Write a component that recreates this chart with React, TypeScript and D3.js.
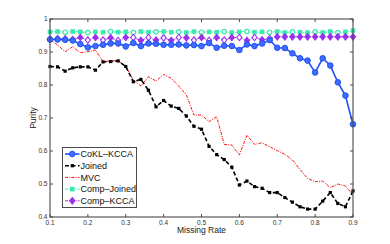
import { useEffect, useRef } from 'react';
import * as d3 from 'd3';

const missingRate = [
  0.1, 0.12, 0.14, 0.16, 0.18, 0.2, 0.22, 0.24, 0.26, 0.28, 0.3, 0.32, 0.34, 0.36, 0.38, 0.4, 0.42, 0.44, 0.46, 0.48,
  0.5, 0.52, 0.54, 0.56, 0.58, 0.6, 0.62, 0.64, 0.66, 0.68, 0.7, 0.72, 0.74, 0.76, 0.78, 0.8, 0.82, 0.84, 0.86, 0.88, 0.9,
];

const cokl = [
  0.938, 0.938, 0.937, 0.935, 0.924, 0.914, 0.918, 0.922, 0.926, 0.926, 0.917, 0.927, 0.918, 0.926, 0.925, 0.922, 0.922,
  0.923, 0.92, 0.921, 0.918, 0.927, 0.913, 0.919, 0.918, 0.906, 0.923, 0.918, 0.926, 0.936, 0.913, 0.912, 0.896, 0.881,
  0.874, 0.838, 0.881, 0.859, 0.808, 0.768, 0.681,
];

const joined = [
  0.856, 0.855, 0.842, 0.852, 0.855, 0.855, 0.845, 0.87, 0.871, 0.873, 0.856, 0.81, 0.817, 0.784, 0.734, 0.753, 0.736,
  0.729, 0.706, 0.675, 0.666, 0.614, 0.589, 0.574, 0.551, 0.497, 0.509, 0.492, 0.487, 0.474, 0.474, 0.459, 0.445, 0.431,
  0.424, 0.424, 0.448, 0.474, 0.441, 0.431, 0.479,
];

const mvc = [
  0.939, 0.921, 0.901, 0.916, 0.898, 0.901, 0.906, 0.871, 0.873, 0.874, 0.856, 0.815, 0.797, 0.825, 0.812, 0.832, 0.82,
  0.797, 0.77, 0.709, 0.709, 0.689, 0.704, 0.62, 0.618, 0.588, 0.648, 0.62, 0.625, 0.613, 0.601, 0.59, 0.573, 0.544,
  0.517, 0.507, 0.509, 0.489, 0.5, 0.494, 0.467,
];

const compJoined = [
  0.961, 0.962, 0.96, 0.962, 0.961, 0.959, 0.961, 0.96, 0.962, 0.96, 0.961, 0.959, 0.962, 0.96, 0.961, 0.962, 0.96,
  0.961, 0.959, 0.962, 0.96, 0.961, 0.96, 0.962, 0.959, 0.961, 0.962, 0.96, 0.961, 0.96, 0.962, 0.959, 0.961, 0.96,
  0.959, 0.961, 0.959, 0.962, 0.959, 0.961, 0.965,
];

const compKcca = [
  0.939, 0.941, 0.94, 0.938, 0.944, 0.936, 0.944, 0.936, 0.943, 0.935, 0.944, 0.944, 0.935, 0.944, 0.936, 0.943, 0.935,
  0.944, 0.943, 0.936, 0.944, 0.935, 0.944, 0.936, 0.944, 0.944, 0.935, 0.944, 0.937, 0.941, 0.946, 0.946, 0.946, 0.946,
  0.946, 0.946, 0.946, 0.946, 0.946, 0.946, 0.946,
];

const xTicks = [0.1, 0.2, 0.3, 0.4, 0.5, 0.6, 0.7, 0.8, 0.9];
const yTicks = [0.4, 0.5, 0.6, 0.7, 0.8, 0.9, 1];
const seriesNames = ['CoKL\u2013KCCA', 'Joined', 'MVC', 'Comp\u2013Joined', 'Comp\u2013KCCA'];

const Chart = () => {
  const svgRef = useRef(null);

  useEffect(() => {
    const svg = d3.select(svgRef.current);
    svg.selectAll('*').remove();

    const margin = { top: 19, right: 37, bottom: 27, left: 50 };
    const width = 390;
    const height = 244;
    const x = d3.scaleLinear().domain([0.1, 0.9]).range([margin.left, width - margin.right]);
    const y = d3.scaleLinear().domain([0.4, 1]).range([height - margin.bottom, margin.top]);

    svg.attr('width', width).attr('height', height);

    const font = 'Liberation Sans, Arial, sans-serif';

    const series = [
      { name: seriesNames[0], values: cokl, color: '#2050f5', width: 1.6, dash: null, marker: 'circle' },
      { name: seriesNames[1], values: joined, color: '#000000', width: 1.6, dash: '4,2.5', marker: 'square' },
      { name: seriesNames[2], values: mvc, color: '#ff1010', width: 1, dash: '3,1.2,1,1.2', marker: null },
      { name: seriesNames[3], values: compJoined, color: '#38eca8', width: 1, dash: '3,1.2,1,1.2', marker: 'gsquare' },
      { name: seriesNames[4], values: compKcca, color: '#9b2ff0', width: 1, dash: '3,1.2,1,1.2', marker: 'diamond' },
    ];

    const line = d3
      .line()
      .x((d) => x(d[0]))
      .y((d) => y(d[1]));

    const drawMarker = (g, kind, color, cx, cy, i, legend) => {
      if (kind === 'circle') {
        g.append('circle').attr('cx', cx).attr('cy', cy).attr('r', 2.8)
          .attr('fill', '#3f6cff').attr('stroke', color).attr('stroke-width', 1);
      } else if (kind === 'square') {
        g.append('rect').attr('x', cx - 1.6).attr('y', cy - 1.6).attr('width', 3.2).attr('height', 3.2).attr('fill', color);
      } else if (kind === 'gsquare') {
        const hollow = !legend && i % 3 === 2;
        if (hollow) {
          g.append('circle').attr('cx', cx).attr('cy', cy).attr('r', 2.2)
            .attr('fill', 'white').attr('stroke', color).attr('stroke-width', 1.2);
        } else {
          g.append('rect').attr('x', cx - 2.3).attr('y', cy - 2.3).attr('width', 4.6).attr('height', 4.6).attr('fill', color);
        }
      } else if (kind === 'diamond') {
        const hollow = !legend && i % 2 === 1 && i < 30;
        const s = 3.2;
        g.append('path')
          .attr('d', `M${cx},${cy - s}L${cx + s * 0.8},${cy}L${cx},${cy + s}L${cx - s * 0.8},${cy}Z`)
          .attr('fill', hollow ? 'white' : color)
          .attr('stroke', color)
          .attr('stroke-width', 1.1);
      }
    };

    const plot = svg.append('g');
    // draw back to front so blue ends up on top as in the original
    [3, 4, 2, 1, 0].forEach((k) => {
      const s = series[k];
      const pts = missingRate.map((m, i) => [m, s.values[i]]);
      plot.append('path')
        .attr('d', line(pts))
        .attr('fill', 'none')
        .attr('stroke', s.color)
        .attr('stroke-width', s.width)
        .attr('stroke-dasharray', s.dash);
      if (s.marker) {
        const mg = plot.append('g');
        pts.forEach((p, i) => drawMarker(mg, s.marker, s.color, x(p[0]), y(p[1]), i, false));
      }
    });

    // axes box
    const axisColor = '#4a4a4a';
    const x0 = x(0.1), x1 = x(0.9), y0 = y(0.4), y1 = y(1);
    svg.append('rect')
      .attr('x', x0).attr('y', y1).attr('width', x1 - x0).attr('height', y0 - y1)
      .attr('fill', 'none').attr('stroke', axisColor).attr('stroke-width', 1.1);

    const tickLen = 3;
    xTicks.forEach((t) => {
      svg.append('line').attr('x1', x(t)).attr('x2', x(t)).attr('y1', y0).attr('y2', y0 - tickLen).attr('stroke', axisColor);
      svg.append('line').attr('x1', x(t)).attr('x2', x(t)).attr('y1', y1).attr('y2', y1 + tickLen).attr('stroke', axisColor);
      svg.append('text').attr('x', x(t)).attr('y', y0 + 7.5)
        .attr('text-anchor', 'middle').style('font-family', font).style('font-size', '6.5px').attr('fill', '#333')
        .text(String(t));
    });
    yTicks.forEach((t) => {
      svg.append('line').attr('x1', x0).attr('x2', x0 + tickLen).attr('y1', y(t)).attr('y2', y(t)).attr('stroke', axisColor);
      svg.append('line').attr('x1', x1).attr('x2', x1 - tickLen).attr('y1', y(t)).attr('y2', y(t)).attr('stroke', axisColor);
      svg.append('text').attr('x', x0 - 2.5).attr('y', y(t) + 2.3)
        .attr('text-anchor', 'end').style('font-family', font).style('font-size', '6.5px').attr('fill', '#333')
        .text(String(t));
    });

    svg.append('text').attr('x', (x0 + x1) / 2).attr('y', 233)
      .attr('text-anchor', 'middle').style('font-family', font).style('font-size', '8.5px').attr('fill', '#222')
      .text('Missing Rate');
    svg.append('text')
      .attr('transform', `translate(36, ${(y0 + y1) / 2}) rotate(-90)`)
      .attr('text-anchor', 'middle').style('font-family', font).style('font-size', '8.5px').attr('fill', '#222')
      .text('Purity');

    // legend
    const lg = svg.append('g');
    lg.append('rect').attr('x', 62.5).attr('y', 147.5).attr('width', 74).attr('height', 60)
      .attr('fill', 'white').attr('stroke', axisColor).attr('stroke-width', 1);
    series.forEach((s, i) => {
      const ly = 154 + i * 11.7;
      lg.append('line').attr('x1', 65).attr('x2', 79.5).attr('y1', ly).attr('y2', ly)
        .attr('stroke', s.color).attr('stroke-width', s.width).attr('stroke-dasharray', s.dash);
      if (s.marker) drawMarker(lg, s.marker, s.color, 72.3, ly, 0, true);
      lg.append('text').attr('x', 80.5).attr('y', ly + 3.3)
        .style('font-family', font).style('font-size', '9px').attr('fill', '#111')
        .text(s.name);
    });
  }, []);

  return <svg ref={svgRef} style={{ position: 'absolute', left: 0, top: 0, display: 'block' }}></svg>;
};

export default function App() {
  return <Chart />;
}
